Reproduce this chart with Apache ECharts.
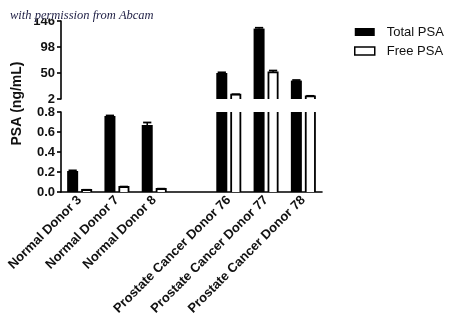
<!DOCTYPE html>
<html>
<head>
<meta charset="utf-8">
<script src="https://cdn.jsdelivr.net/npm/echarts@6/dist/echarts.min.js"></script>
<style>
  html, body { margin: 0; padding: 0; background: #fff; }
  #chart { width: 450px; height: 333px; }
</style>
</head>
<body>
<div id="chart"></div>
<script>
// Donors on the x axis; the blank slot separates the two groups.
const categories = [
  'Normal Donor 3', 'Normal Donor 7', 'Normal Donor 8', '',
  'Prostate Cancer Donor 76', 'Prostate Cancer Donor 77', 'Prostate Cancer Donor 78'
];
// PSA concentration, ng/mL (mean and error)
const totalPSA = [0.21, 0.76, 0.67, null, 50, 132, 36];
const totalErr = [0.006, 0.005, 0.025, null, 1.2, 1.5, 1.0];
const freePSA  = [0.02, 0.05, 0.03, null, 10, 51, 7];
const freeErr  = [0.002, 0.004, 0.003, null, 0.8, 3.5, 0.8];
// Tick values of the two halves of the broken y axis
const upperTicks = [2, 50, 98, 146];
const lowerTicks = [0, 0.2, 0.4, 0.6, 0.8];

const INK = '#111';
const FONT = '"Liberation Sans", Arial, sans-serif';

// Draws one bar per category, clipped to its own panel of the broken axis.
function barRenderer(kind) {
  return function (params, api) {
    const idx = api.value(0);
    const val = api.value(1);
    const err = api.value(2);
    if (val == null || isNaN(val)) return;
    const cs = params.coordSys;
    const band = api.size([1, 0])[0];
    const barW = band * 0.295;
    const gap = band * 0.08;
    const shift = gap / 2 + barW / 2;
    const pTop = api.coord([idx, val]);
    const pBase = api.coord([idx, 0]);
    const cx = pTop[0] + (kind === 'total' ? -shift : shift);
    const yVal = pTop[1];
    const yTop = Math.max(yVal, cs.y);
    const yBot = Math.min(pBase[1], cs.y + cs.height);
    if (yTop >= yBot) return;
    const children = [];
    const sw = 1.8;
    if (kind === 'total') {
      children.push({
        type: 'rect',
        shape: { x: cx - barW / 2, y: yTop, width: barW, height: yBot - yTop },
        style: { fill: '#000' }
      });
    } else {
      const hw = barW / 2 - sw / 2;
      children.push({
        type: 'rect',
        shape: { x: cx - hw, y: yTop, width: 2 * hw, height: yBot - yTop },
        style: { fill: '#fff' }
      });
      if (yVal >= cs.y) {
        children.push({
          type: 'polyline',
          shape: { points: [[cx - hw, yBot], [cx - hw, yVal], [cx + hw, yVal], [cx + hw, yBot]] },
          style: { stroke: '#000', lineWidth: sw, fill: null }
        });
      } else {
        children.push({ type: 'line', shape: { x1: cx - hw, y1: yBot, x2: cx - hw, y2: yTop }, style: { stroke: '#000', lineWidth: sw } });
        children.push({ type: 'line', shape: { x1: cx + hw, y1: yBot, x2: cx + hw, y2: yTop }, style: { stroke: '#000', lineWidth: sw } });
      }
    }
    // error bar with cap
    if (err && !isNaN(err) && yVal >= cs.y) {
      const yErr = Math.max(api.coord([idx, val + err])[1], cs.y);
      const capW = barW * 0.75;
      children.push({ type: 'line', shape: { x1: cx, y1: yVal, x2: cx, y2: yErr }, style: { stroke: '#000', lineWidth: 1.5 } });
      children.push({ type: 'line', shape: { x1: cx - capW / 2, y1: yErr, x2: cx + capW / 2, y2: yErr }, style: { stroke: '#000', lineWidth: 1.8 } });
    }
    return { type: 'group', children: children };
  };
}

function seriesData(values, errors) {
  return categories.map((c, i) => [i, values[i], errors[i]]);
}

const axisLineStyle = { color: '#000', width: 1.6 };

const chart = echarts.init(document.getElementById('chart'), null, { renderer: 'canvas' });
chart.setOption({
  backgroundColor: '#fff',
  animation: false,
  grid: [
    { left: 61, right: 128, top: 21, height: 78 },
    { left: 61, right: 128, top: 112, height: 80 }
  ],
  xAxis: [
    { gridIndex: 0, type: 'category', data: categories, show: false },
    {
      gridIndex: 1, type: 'category', data: categories,
      axisLine: { lineStyle: axisLineStyle },
      axisTick: { alignWithLabel: true, length: 4, lineStyle: axisLineStyle },
      axisLabel: {
        rotate: 45, interval: 0, margin: 6,
        fontSize: 13, fontWeight: 'bold', color: INK, fontFamily: FONT
      }
    }
  ],
  yAxis: [
    {
      gridIndex: 0, type: 'value', min: 2, max: 146,
      axisLine: { show: true, lineStyle: axisLineStyle },
      axisTick: { show: true, length: 4, lineStyle: axisLineStyle, customValues: upperTicks },
      axisLabel: { customValues: upperTicks, margin: 6, fontSize: 13, fontWeight: 'bold', color: INK, fontFamily: FONT },
      splitLine: { show: false }
    },
    {
      gridIndex: 1, type: 'value', min: 0, max: 0.8, interval: 0.2,
      axisLine: { show: true, lineStyle: axisLineStyle },
      axisTick: { show: true, length: 4, lineStyle: axisLineStyle, customValues: lowerTicks },
      axisLabel: {
        customValues: lowerTicks, margin: 6, fontSize: 13, fontWeight: 'bold', color: INK, fontFamily: FONT,
        formatter: v => v.toFixed(1)
      },
      splitLine: { show: false }
    }
  ],
  legend: {
    orient: 'vertical', left: 349, top: 20,
    itemWidth: 20, itemHeight: 8, itemGap: 5,
    textStyle: { fontSize: 13, color: INK, fontFamily: FONT, lineHeight: 14, padding: [0, 0, 0, 7] },
    data: [
      { name: 'Total PSA', icon: 'rect', itemStyle: { color: '#000' } },
      { name: 'Free PSA', icon: 'rect', itemStyle: { color: '#fff', borderColor: '#000', borderWidth: 1.5 } }
    ]
  },
  graphic: [
    {
      type: 'text', x: 17, y: 103.5, rotation: Math.PI / 2,
      style: {
        text: 'PSA (ng/mL)', fill: INK, font: 'bold 14px ' + FONT,
        align: 'center', verticalAlign: 'middle'
      }
    },
    // credit line sits on a white strip that overlaps the top tick label
    {
      type: 'rect', z: 99, shape: { x: 8, y: 6, width: 146, height: 12.5 },
      style: { fill: '#fff' }
    },
    {
      type: 'text', x: 10, y: 16, z: 100,
      style: {
        text: 'with permission from Abcam', fill: '#1e1e44',
        font: 'italic 12.5px "Liberation Serif", serif',
        verticalAlign: 'middle'
      }
    }
  ],
  series: [
    { name: 'Total PSA', type: 'custom', xAxisIndex: 0, yAxisIndex: 0, itemStyle: { color: '#000' },
      renderItem: barRenderer('total'), data: seriesData(totalPSA, totalErr) },
    { name: 'Free PSA', type: 'custom', xAxisIndex: 0, yAxisIndex: 0, itemStyle: { color: '#fff' },
      renderItem: barRenderer('free'), data: seriesData(freePSA, freeErr) },
    { name: 'Total PSA', type: 'custom', xAxisIndex: 1, yAxisIndex: 1, itemStyle: { color: '#000' },
      renderItem: barRenderer('total'), data: seriesData(totalPSA, totalErr) },
    { name: 'Free PSA', type: 'custom', xAxisIndex: 1, yAxisIndex: 1, itemStyle: { color: '#fff' },
      renderItem: barRenderer('free'), data: seriesData(freePSA, freeErr) }
  ]
});
</script>
</body>
</html>
